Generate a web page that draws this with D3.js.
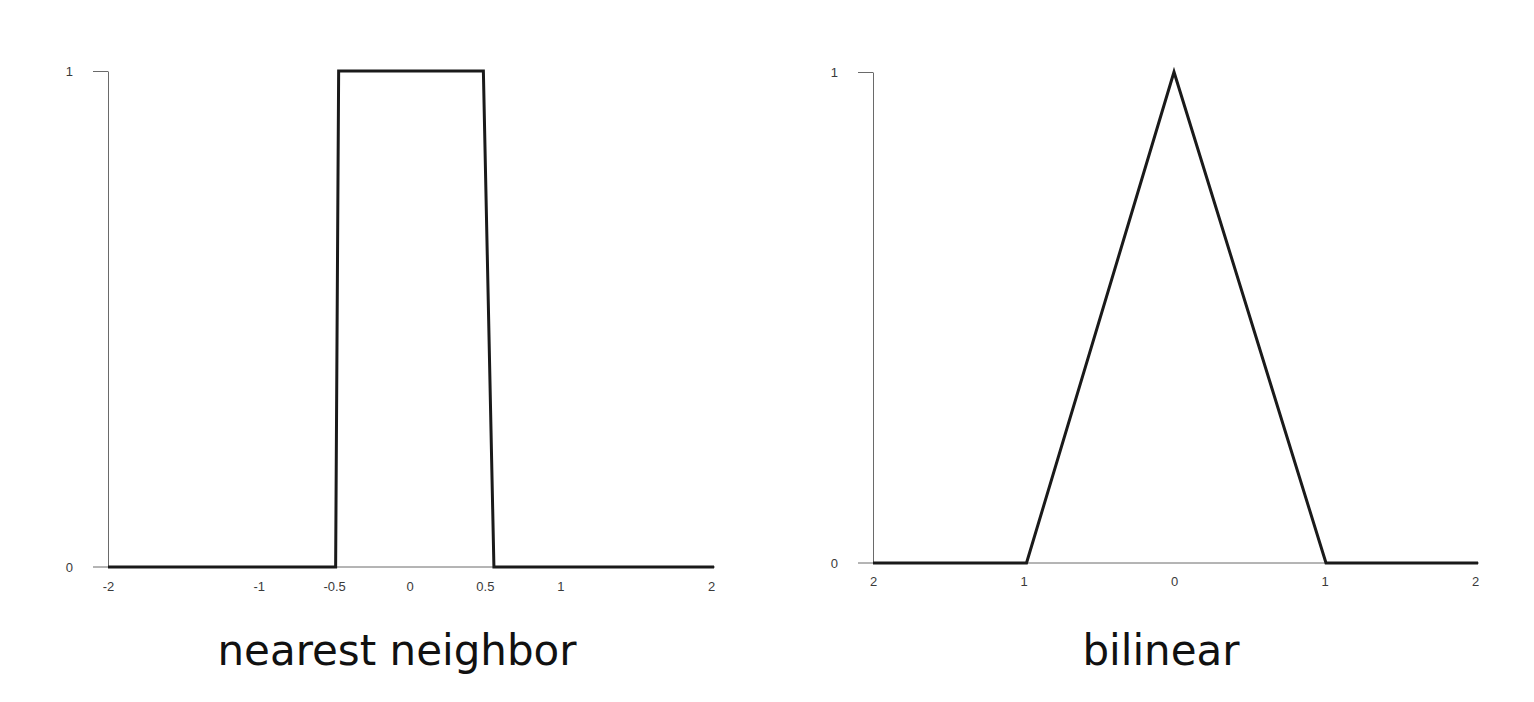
<!DOCTYPE html>
<html>
<head>
<meta charset="utf-8">
<script src="https://cdn.jsdelivr.net/npm/d3@7"></script>
<style>
  html, body { margin: 0; padding: 0; background: #fff; }
  .axis text { font-family: "Liberation Sans", Arial, sans-serif; font-size: 13px; fill: #3a3a3a; }
  .axis path, .axis line { stroke: #6a6a6a; stroke-width: 1; }
  .title { font-family: "DejaVu Sans", Verdana, sans-serif; font-size: 42px; fill: #111; }
</style>
</head>
<body>
<div id="chart"></div>
<script>
// Nearest neighbour kernel (box)
const nnX = [-2, -0.49, -0.47, 0.49, 0.56, 2.02];
const nnY = [0, 0, 1, 1, 0, 0];
const nnTicks = [-2, -1, -0.5, 0, 0.5, 1, 2];
const nnTickLabels = ["-2", "-1", "-0.5", "0", "0.5", "1", "2"];

// Bilinear kernel (tent)
const blX = [-2, -0.98, 0, 1.01, 2.02];
const blY = [0, 0, 1, 0, 0];
const blTicks = [-2, -1, 0, 1, 2];
const blTickLabels = ["2", "1", "0", "1", "2"];

const yTicks = [0, 1];
const titles = ["nearest neighbor", "bilinear"];

const width = 1534;
const height = 702;

const svg = d3.select("#chart")
  .append("svg")
  .attr("width", width)
  .attr("height", height);

// one panel = one little plot; the ranges are where the scanned axes sit
function panel(opts) {
  const x = d3.scaleLinear().domain([-2, 2]).range(opts.xRange);
  const y = d3.scaleLinear().domain([0, 1]).range(opts.yRange);

  const g = svg.append("g");

  // baseline, runs a bit to the left of the y axis like in the scan
  g.append("line")
    .attr("class", "baseline")
    .attr("x1", x(-2) - 15)
    .attr("x2", x(2) + 4)
    .attr("y1", y(0))
    .attr("y2", y(0))
    .attr("stroke", "#6a6a6a")
    .attr("stroke-width", 1);

  // y axis: only the "1" gets a tick mark, "0" sits on the baseline
  const yAxis = d3.axisLeft(y)
    .tickValues(yTicks)
    .tickSize(15)
    .tickSizeOuter(0)
    .tickPadding(20)
    .tickFormat(d3.format("d"));

  g.append("g")
    .attr("class", "axis y")
    .attr("transform", `translate(${x(-2)},0)`)
    .call(yAxis)
    .call(s => s.selectAll(".tick").filter(d => d === 0).select("line").remove());

  // x axis: labels only
  const xAxis = d3.axisBottom(x)
    .tickValues(opts.ticks)
    .tickSize(0)
    .tickPadding(opts.pad)
    .tickFormat((d, i) => opts.labels[i]);

  g.append("g")
    .attr("class", "axis x")
    .attr("transform", `translate(0,${y(0)})`)
    .call(xAxis)
    .call(s => s.select(".domain").remove());

  // the kernel itself
  const line = d3.line()
    .x(d => x(d[0]))
    .y(d => y(d[1]));

  g.append("path")
    .datum(d3.zip(opts.xs, opts.ys))
    .attr("d", line)
    .attr("fill", "none")
    .attr("stroke", "#1a1a1a")
    .attr("stroke-width", 3)
    .attr("stroke-linejoin", "miter");

  g.append("text")
    .attr("class", "title")
    .attr("x", opts.titleX)
    .attr("y", 665)
    .attr("text-anchor", "middle")
    .text(opts.title);
}

panel({
  xRange: [108, 711],
  yRange: [567, 71],
  ticks: nnTicks,
  labels: nnTickLabels,
  xs: nnX,
  ys: nnY,
  pad: 15,
  title: titles[0],
  titleX: 397
});

panel({
  xRange: [873, 1475],
  yRange: [563, 72],
  ticks: blTicks,
  labels: blTickLabels,
  xs: blX,
  ys: blY,
  pad: 14,
  title: titles[1],
  titleX: 1161
});
</script>
</body>
</html>
